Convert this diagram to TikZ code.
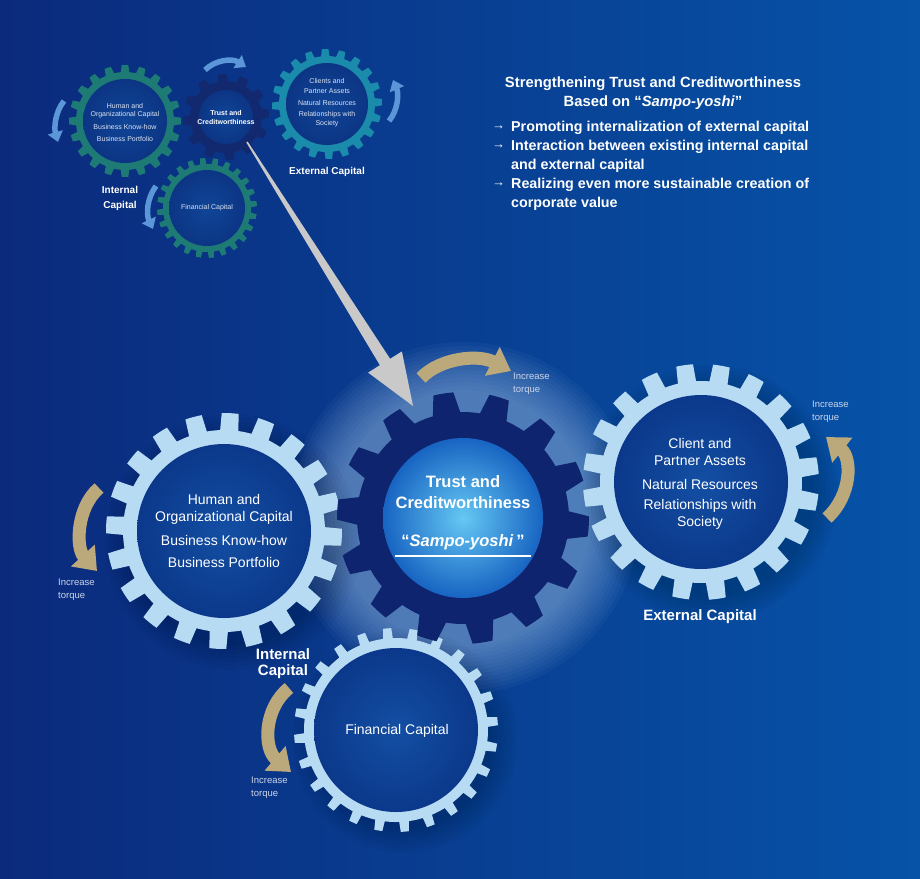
\documentclass[tikz,border=0pt]{standalone}
\usepackage{fontspec}
\setmainfont{Liberation Sans}
\usetikzlibrary{arrows.meta,calc}
\definecolor{bgL}{HTML}{0B2A7C}
\definecolor{bgR}{HTML}{0653A8}
\definecolor{lightgear}{HTML}{B8DBF4}
\definecolor{navygear}{HTML}{0F246F}
\definecolor{innerA}{HTML}{134FA4}
\definecolor{innerB}{HTML}{0B388A}
\definecolor{coreA}{HTML}{66C8F3}
\definecolor{coreB}{HTML}{1764C2}
\definecolor{gold}{HTML}{BBA97C}
\definecolor{tealg}{HTML}{1E7A74}
\definecolor{cyang}{HTML}{1A8BAB}
\definecolor{smallnavy}{HTML}{13296F}
\definecolor{sarrow}{HTML}{5B97D8}
\definecolor{glowc}{HTML}{B4D4F4}
\definecolor{torquec}{HTML}{CBD5EA}
\definecolor{smalltext}{HTML}{DCE4F2}
\definecolor{grayarrow}{HTML}{C9C9C9}
\definecolor{sinnerA}{HTML}{104597}
\definecolor{sinnerB}{HTML}{0C3584}

\newcommand\gearshape[8]{%
  \pgfmathsetmacro\gearpitch{360/#3}%
  \pgfmathtruncatemacro\gearlast{#3-1}%
  \path[#1, shift={(#2)}] ({#8-#6}:#4)
    \foreach \gi in {0,...,\gearlast}{
      -- ({#8+\gi*\gearpitch-#7}:#5)
      arc[start angle={#8+\gi*\gearpitch-#7}, end angle={#8+\gi*\gearpitch+#7}, radius=#5]
      -- ({#8+\gi*\gearpitch+#6}:#4)
      arc[start angle={#8+\gi*\gearpitch+#6}, end angle={#8+(\gi+1)*\gearpitch-#6}, radius=#4]
    } -- cycle;
}
\newcommand\softshadow[2]{%
  \foreach \sr in {0,4,...,24}{
    \fill[black, opacity=0.028] ($(#1)+(9,11)$) circle[radius={#2+10-\sr}];
  }
}

\tikzset{
  gtext/.style={text=white, font=\fontsize{14}{16}\selectfont, inner sep=0pt},
  ctext/.style={text=white, font=\bfseries\fontsize{16.5}{19}\selectfont, inner sep=0pt},
  lbl/.style={text=white, font=\bfseries\fontsize{15}{17}\selectfont, inner sep=0pt},
  slbl/.style={text=white, font=\bfseries\fontsize{10}{12}\selectfont, inner sep=0pt},
  torque/.style={text=torquec, font=\fontsize{9.5}{13}\selectfont, align=left, anchor=west, inner sep=0pt},
  tinyt/.style={text=smalltext, font=\fontsize{7}{8}\selectfont, inner sep=0pt},
  tinyb/.style={text=white, font=\bfseries\fontsize{7}{8}\selectfont, inner sep=0pt},
  head/.style={text=white, font=\bfseries\fontsize{14.8}{17}\selectfont, inner sep=0pt},
  bullet/.style={text=white, font=\bfseries\fontsize{14.3}{17}\selectfont, inner sep=0pt, anchor=west},
  barrow/.style={text=white, font=\fontsize{13}{15}\selectfont, inner sep=0pt, anchor=west},
  goldarrow/.style={draw=gold, line width=13pt, -{Triangle[width=31pt,length=21pt]}},
  bluearrow/.style={draw=sarrow, line width=5.5pt, -{Triangle[width=15pt,length=10pt]}},
}

\begin{document}
\begin{tikzpicture}[x=1pt,y=-1pt]
\useasboundingbox (0,0) rectangle (920,878);
\shade[left color=bgL, right color=bgR] (0,0) rectangle (920,878);

% centres
\coordinate (cg) at (463,518);
\coordinate (lg) at (224,531);
\coordinate (rg) at (701,482);
\coordinate (bg) at (396,730);
\coordinate (shg) at (125,121);
\coordinate (stg) at (226,117);
\coordinate (seg) at (327,104);
\coordinate (sfg) at (207,208);

% glow around central gear
\foreach \r in {176,172,...,128}{
  \fill[glowc, opacity=0.045] (cg) circle[radius=\r];
}

% shadows
\softshadow{lg}{118}
\softshadow{rg}{118}
\softshadow{bg}{102}

% ---------- small gears ----------
\gearshape{fill=tealg}{shg}{20}{49}{56}{5}{3.4}{270}
\shade[inner color=sinnerA, outer color=sinnerB] (shg) circle[radius=42];
\gearshape{fill=tealg}{sfg}{24}{44}{50}{4}{2.8}{265}
\shade[inner color=sinnerA, outer color=sinnerB] (sfg) circle[radius=38];
\gearshape{fill=cyang}{seg}{20}{48}{55}{5}{3.4}{268}
\shade[inner color=sinnerA, outer color=sinnerB] (seg) circle[radius=41];
\gearshape{fill=smallnavy}{stg}{12}{36}{43}{8.5}{5.5}{265}
\shade[inner color=sinnerA, outer color=sinnerB] (stg) circle[radius=27];

% small texts
\node[tinyt] (sh1) at (125,106) {Human and};
\node[tinyt] (sh2) at (125,115) {Organizational Capital};
\node[tinyt] (sh3) at (125,127) {Business Know-how};
\node[tinyt] (sh4) at (125,139) {Business Portfolio};
\node[tinyb] (st1) at (226,113) {Trust and};
\node[tinyb] (st2) at (226,122) {Creditworthiness};
\node[tinyt] (se1) at (327,81) {Clients and};
\node[tinyt] (se2) at (327,91) {Partner Assets};
\node[tinyt] (se3) at (327,103) {Natural Resources};
\node[tinyt] (se4) at (327,115) {Relationships with};
\node[tinyt] (se5) at (327,124) {Society};
\node[tinyt] (sf1) at (207,208) {Financial Capital};
\node[slbl] (si1) at (120,190) {Internal};
\node[slbl] (si2) at (120,206) {Capital};
\node[slbl] (sec) at (327,172) {External Capital};

% small arrows
\coordinate (sa1s) at (205,70); \coordinate (sa1e) at (246,67);
\coordinate (sa2s) at (64,101); \coordinate (sa2e) at (58,142);
\coordinate (sa3s) at (389,121); \coordinate (sa3e) at (393,80);
\coordinate (sa4s) at (156,186); \coordinate (sa4e) at (153,229);
\draw[bluearrow] (sa1s) .. controls (215,60) and (232,58) .. (sa1e);
\draw[bluearrow] (sa2s) .. controls (55,112) and (54,128) .. (sa2e);
\draw[bluearrow] (sa3s) .. controls (398,110) and (399,94) .. (sa3e);
\draw[bluearrow] (sa4s) .. controls (147,198) and (146,214) .. (sa4e);

% ---------- big gears ----------
\gearshape{fill=lightgear}{lg}{20}{101}{118}{5.2}{4.1}{273}
\shade[inner color=innerA, outer color=innerB] (lg) circle[radius=87];
\gearshape{fill=lightgear}{rg}{20}{101}{118}{5.2}{4.1}{262}
\shade[inner color=innerA, outer color=innerB] (rg) circle[radius=87];
\gearshape{fill=lightgear}{bg}{24}{92}{102}{3.0}{2.3}{265}
\shade[inner color=innerA, outer color=innerB] (bg) circle[radius=82];
\gearshape{fill=navygear}{cg}{14}{106}{126}{7.5}{4.6}{261}
\shade[inner color=coreA, outer color=coreB] (cg) circle[radius=80];

% big gear texts
\node[gtext] (l1) at (224,499) {Human and};
\node[gtext] (l2) at (224,518) {Organizational Capital};
\node[gtext] (l3) at (224,540) {Business Know-how};
\node[gtext] (l4) at (224,562) {Business Portfolio};

\node[ctext] (c1) at (463,482) {Trust and};
\node[ctext] (c2) at (463,503) {Creditworthiness};
\node[ctext] (c3) at (463,542) {“\textit{Sampo-yoshi}\,”};
\coordinate (ulL) at (395,556); \coordinate (ulR) at (531,556);
\draw[white, line width=1.3pt] (ulL) -- (ulR);

\node[gtext] (r1) at (700,443) {Client and};
\node[gtext] (r2) at (700,461) {Partner Assets};
\node[gtext] (r3) at (700,484) {Natural Resources};
\node[gtext] (r4) at (700,506) {Relationships with};
\node[gtext] (r5) at (700,523) {Society};

\node[gtext] (f1) at (397,731) {Financial Capital};

\node[lbl] (ec) at (700,617) {External Capital};
\node[lbl] (ic1) at (283,654) {Internal};
\node[lbl] (ic2) at (283,672) {Capital};

% gold arrows
\coordinate (ga1s) at (421,378); \coordinate (ga1e) at (511,371);
\coordinate (ga2s) at (827,518); \coordinate (ga2e) at (826,437);
\coordinate (ga3s) at (99,488);  \coordinate (ga3e) at (97,571);
\coordinate (ga4s) at (289,688); \coordinate (ga4e) at (291,772);
\draw[goldarrow] (ga1s) .. controls (440,358) and (478,354) .. (ga1e);
\draw[goldarrow] (ga2s) .. controls (852,495) and (852,458) .. (ga2e);
\draw[goldarrow] (ga3s) .. controls (76,508) and (76,548) .. (ga3e);
\draw[goldarrow] (ga4s) .. controls (264,708) and (263,748) .. (ga4e);

\node[torque] (t1) at (513,384) {Increase\\torque};
\node[torque] (t2) at (812,412) {Increase\\torque};
\node[torque] (t3) at (58,590) {Increase\\torque};
\node[torque] (t4) at (251,788) {Increase\\torque};

% gray arrow from small to big trust gear
\coordinate (gS1) at (246.3,142.4);
\coordinate (gN1) at (379.9,365.2);
\coordinate (gH1) at (368.1,372.6);
\coordinate (gT)  at (413,406);
\coordinate (gH2) at (401.9,351.4);
\coordinate (gN2) at (390.1,358.8);
\coordinate (gS2) at (247.7,141.6);
\fill[grayarrow] (gS1) -- (gN1) -- (gH1) -- (gT) -- (gH2) -- (gN2) -- (gS2) -- cycle;

% heading text
\node[head] (h1) at (653,84) {Strengthening Trust and Creditworthiness};
\node[head] (h2) at (653,103) {Based on “\textit{Sampo-yoshi}”};
\node[barrow] (a1) at (492,128) {→};
\node[bullet] (b1) at (511,128) {Promoting internalization of external capital};
\node[barrow] (a2) at (492,147) {→};
\node[bullet] (b2) at (511,147) {Interaction between existing internal capital};
\node[bullet] (b3) at (511,166) {and external capital};
\node[barrow] (a3) at (492,185) {→};
\node[bullet] (b4) at (511,185) {Realizing even more sustainable creation of};
\node[bullet] (b5) at (511,204) {corporate value};
\end{tikzpicture}
\end{document}
